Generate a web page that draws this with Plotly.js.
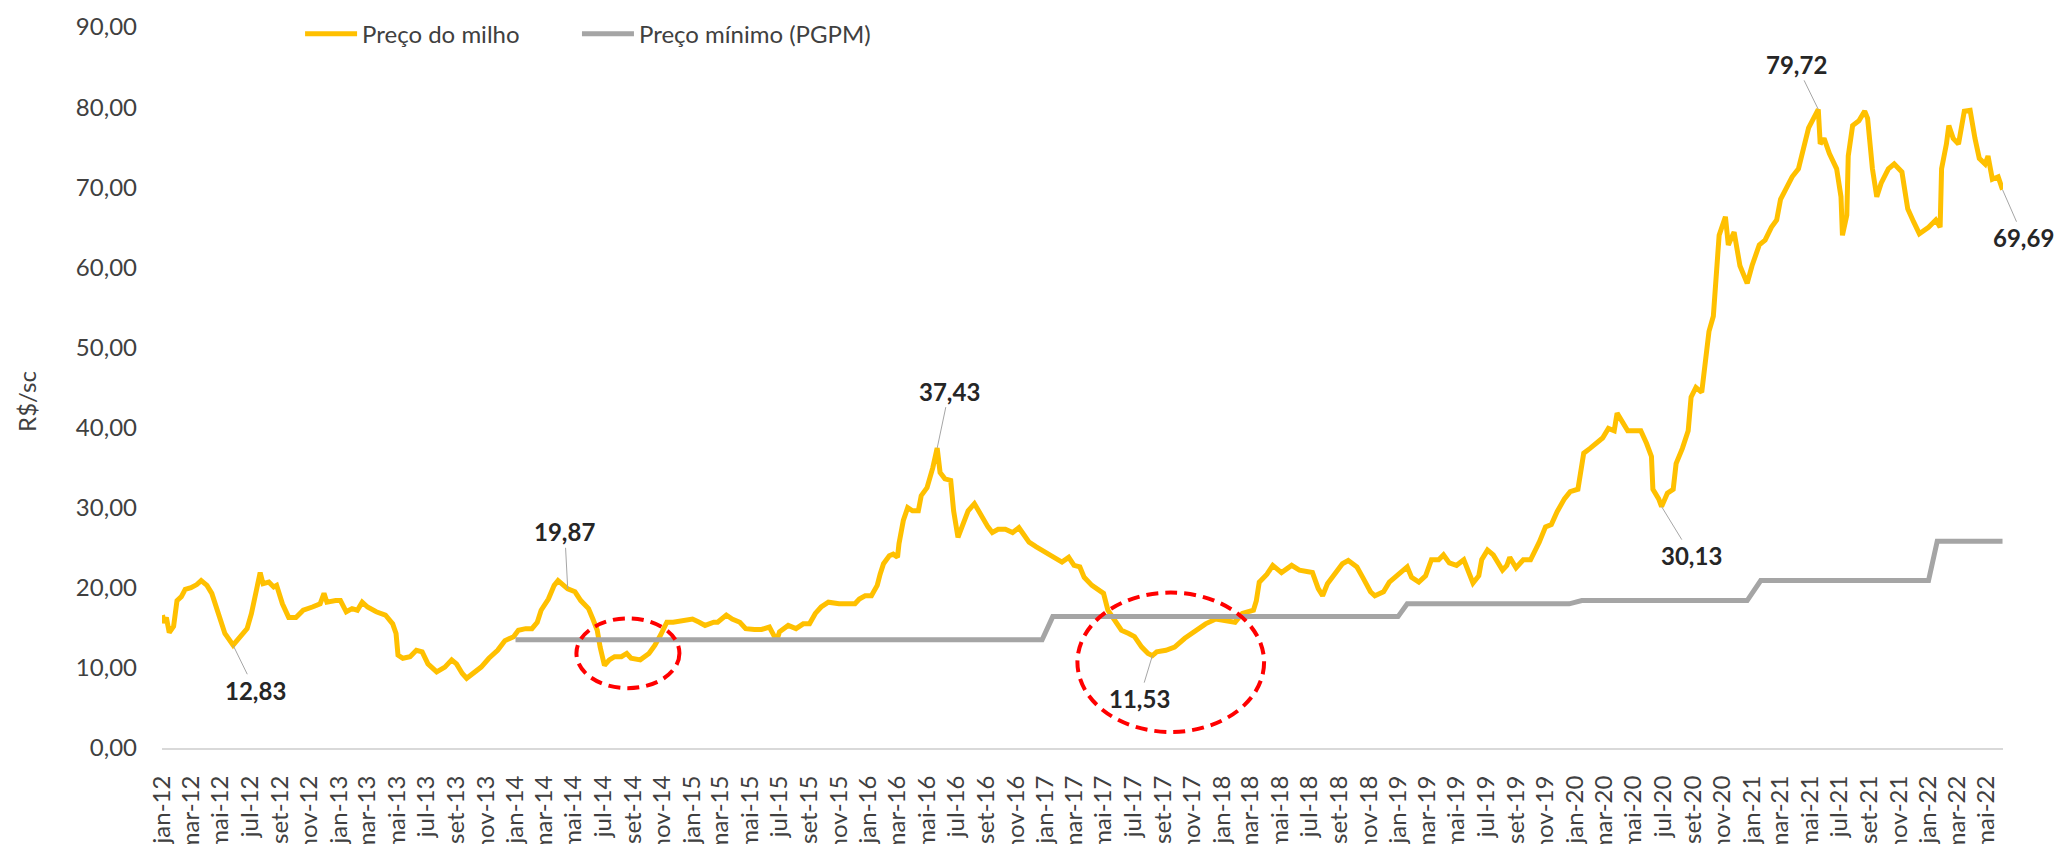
<!DOCTYPE html>
<html>
<head>
<meta charset="utf-8">
<script src="https://cdn.plot.ly/plotly-3.0.1.min.js"></script>
<style>
  html, body { margin: 0; padding: 0; background: #fff; }
</style>
</head>
<body>
<div id="grafico" style="width:2065px;height:844px"></div>
<script>
// Preço do milho (R$/sc) - leitura aproximada do gráfico
const datasMilho = [
  // 2012
  '2012-01-02','2012-01-06','2012-01-10','2012-01-16','2012-01-25','2012-02-01','2012-02-10','2012-02-18',
  '2012-03-01','2012-03-13','2012-03-22','2012-04-03','2012-04-13','2012-04-22','2012-05-01','2012-05-10',
  '2012-05-27','2012-06-10','2012-06-25','2012-07-04','2012-07-15','2012-07-22','2012-07-28','2012-08-09',
  '2012-08-19','2012-08-25','2012-09-06','2012-09-19','2012-10-04','2012-10-19','2012-11-07','2012-11-23',
  '2012-12-01','2012-12-07','2012-12-25',
  // 2013
  '2013-01-04','2013-01-16','2013-01-28','2013-02-08','2013-02-18','2013-03-01','2013-03-19','2013-04-07',
  '2013-04-22','2013-04-29','2013-05-03','2013-05-13','2013-05-28','2013-06-10','2013-06-22','2013-07-04',
  '2013-07-22','2013-08-08','2013-08-22','2013-09-01','2013-09-13','2013-09-22','2013-10-07','2013-10-22',
  '2013-11-07','2013-11-25','2013-12-10','2013-12-28',
  // 2014
  '2014-01-07','2014-01-22','2014-02-04','2014-02-15','2014-02-23','2014-03-10','2014-03-22','2014-03-30',
  '2014-04-19','2014-05-04','2014-05-16','2014-06-01','2014-06-10','2014-06-19','2014-06-25','2014-07-04',
  '2014-07-14','2014-07-25','2014-08-08','2014-08-19','2014-08-28','2014-09-16','2014-10-04','2014-10-16',
  '2014-10-28','2014-11-10','2014-11-23','2014-12-10',
  // 2015
  '2015-01-02','2015-01-16','2015-01-28','2015-02-15','2015-02-23','2015-03-13','2015-03-25','2015-04-10',
  '2015-04-22','2015-05-10','2015-05-25','2015-06-10','2015-06-25','2015-07-01','2015-07-19','2015-08-04',
  '2015-08-19','2015-09-01','2015-09-13','2015-09-25','2015-10-10','2015-11-01','2015-11-19','2015-12-04',
  '2015-12-13','2015-12-25',
  // 2016
  '2016-01-07','2016-01-19','2016-01-25','2016-02-01','2016-02-13','2016-02-21','2016-03-01','2016-03-04',
  '2016-03-13','2016-03-22','2016-04-01','2016-04-13','2016-04-19','2016-05-01','2016-05-13','2016-05-22',
  '2016-05-28','2016-06-07','2016-06-19','2016-06-25','2016-07-04','2016-07-16','2016-07-25','2016-08-07',
  '2016-08-19','2016-09-04','2016-09-13','2016-09-25','2016-10-10','2016-10-25','2016-11-07','2016-11-13',
  '2016-11-28','2016-12-13',
  // 2017
  '2017-01-01','2017-01-19','2017-02-04','2017-02-18','2017-03-01','2017-03-13','2017-03-22','2017-04-07',
  '2017-04-19','2017-05-01','2017-05-10','2017-05-25','2017-06-07','2017-06-22','2017-07-04','2017-07-19',
  '2017-08-01','2017-08-10','2017-08-19','2017-09-07','2017-09-25','2017-10-16','2017-11-07','2017-11-28',
  '2017-12-19',
  // 2018
  '2018-01-07','2018-01-28','2018-02-12','2018-03-07','2018-03-13','2018-03-19','2018-04-04','2018-04-16',
  '2018-05-04','2018-05-25','2018-06-10','2018-06-28','2018-07-07','2018-07-19','2018-07-28','2018-08-07',
  '2018-08-22','2018-09-07','2018-09-19','2018-10-07','2018-10-19','2018-11-04','2018-11-13','2018-12-01',
  '2018-12-13',
  // 2019
  '2019-01-01','2019-01-19','2019-01-28','2019-02-12','2019-02-26','2019-03-10','2019-03-25','2019-04-04',
  '2019-04-16','2019-05-01','2019-05-16','2019-05-25','2019-06-04','2019-06-16','2019-06-22','2019-07-04',
  '2019-07-16','2019-08-04','2019-08-13','2019-08-19','2019-09-01','2019-09-16','2019-10-01','2019-10-19',
  '2019-11-01','2019-11-13','2019-11-25','2019-12-10','2019-12-22',
  // 2020
  '2020-01-07','2020-01-19','2020-02-01','2020-02-15','2020-02-27','2020-03-10','2020-03-22','2020-03-28',
  '2020-04-07','2020-04-19','2020-05-04','2020-05-16','2020-05-28','2020-06-07','2020-06-10','2020-06-22',
  '2020-06-28','2020-07-10','2020-07-22','2020-07-28','2020-08-10','2020-08-22','2020-08-28','2020-09-07',
  '2020-09-19','2020-09-28','2020-10-04','2020-10-13','2020-10-19','2020-10-25','2020-11-07','2020-11-13',
  '2020-11-25','2020-12-07','2020-12-22',
  // 2021
  '2021-01-01','2021-01-16','2021-01-28','2021-02-10','2021-02-21','2021-03-01','2021-03-13','2021-03-25',
  '2021-04-07','2021-04-16','2021-04-28','2021-05-18','2021-05-22','2021-05-30','2021-06-10','2021-06-25',
  '2021-07-04','2021-07-07','2021-07-16','2021-07-19','2021-07-28','2021-08-10','2021-08-22','2021-08-28',
  '2021-09-07','2021-09-16','2021-09-25','2021-10-10','2021-10-22','2021-11-07','2021-11-19','2021-12-01',
  '2021-12-13',
  // 2022
  '2022-01-01','2022-01-16','2022-01-25','2022-01-28','2022-02-07','2022-02-12','2022-02-21','2022-03-04',
  '2022-03-16','2022-03-28','2022-04-07','2022-04-16','2022-04-28','2022-05-04','2022-05-13','2022-05-25',
  '2022-06-03'
];

const precoMilho = [
  // 2012
  16.6, 15.6, 16.3, 14.4, 15.2, 18.4, 18.9, 19.8,
  20.0, 20.4, 20.9, 20.3, 19.3, 17.6, 15.5, 14.3,
  12.83, 13.9, 14.9, 16.8, 20.1, 21.9, 20.5, 20.7,
  20.1, 20.3, 18.0, 16.3, 16.3, 17.2, 17.6, 18.0,
  19.3, 18.2, 18.4,
  // 2013
  18.4, 17.0, 17.4, 17.2, 18.2, 17.6, 17.0, 16.6,
  15.5, 14.3, 11.6, 11.2, 11.4, 12.2, 12.0, 10.5,
  9.5, 10.1, 11.0, 10.5, 9.3, 8.7, 9.5, 10.1,
  11.2, 12.2, 13.4, 13.9,
  // 2014
  14.7, 14.9, 14.9, 15.7, 17.2, 18.6, 20.3, 20.9,
  19.87, 19.5, 18.4, 17.4, 16.1, 14.7, 12.6, 10.3,
  11.0, 11.4, 11.4, 11.8, 11.2, 11.0, 11.8, 12.8,
  14.1, 15.7, 15.7, 15.9,
  // 2015
  16.1, 15.7, 15.3, 15.7, 15.7, 16.6, 16.1, 15.7,
  14.9, 14.8, 14.8, 15.1, 13.4, 14.5, 15.3, 14.9,
  15.5, 15.5, 16.8, 17.6, 18.2, 18.0, 18.0, 18.0,
  18.6, 19.0,
  // 2016
  19.0, 20.3, 21.7, 23.0, 24.0, 24.2, 23.8, 25.5,
  28.4, 30.0, 29.6, 29.6, 31.5, 32.5, 35.0, 37.43,
  34.4, 33.6, 33.4, 29.6, 26.3, 28.4, 29.6, 30.5,
  29.2, 27.6, 26.9, 27.3, 27.3, 26.9, 27.5, 26.9,
  25.7, 25.1,
  // 2017
  24.4, 23.8, 23.2, 23.8, 22.8, 22.6, 21.3, 20.3,
  19.7, 19.3, 17.2, 15.9, 14.7, 14.3, 13.9, 12.6,
  11.8, 11.53, 12.0, 12.2, 12.6, 13.7, 14.7, 15.5,
  16.1,
  // 2018
  15.9, 15.7, 16.8, 17.2, 18.4, 20.7, 21.7, 22.8,
  21.9, 22.8, 22.2, 21.9, 21.9, 19.9, 19.0, 20.5,
  21.7, 23.0, 23.4, 22.6, 21.3, 19.5, 19.0, 19.5,
  20.7,
  // 2019
  21.7, 22.6, 21.3, 20.7, 21.5, 23.5, 23.5, 24.1,
  23.1, 22.8, 23.5, 22.2, 20.6, 21.5, 23.5, 24.7,
  24.1, 22.2, 22.8, 23.8, 22.5, 23.5, 23.5, 25.7,
  27.6, 27.9, 29.5, 31.1, 32.0,
  // 2020
  32.3, 36.8, 37.4, 38.0, 38.7, 39.9, 39.6, 41.8,
  40.9, 39.6, 39.6, 39.6, 38.0, 36.4, 32.3, 31.1,
  30.13, 31.8, 32.3, 35.5, 37.4, 39.6, 43.8, 45.0,
  44.4, 48.8, 52.0, 53.9, 58.3, 64.0, 66.3, 62.8,
  64.4, 60.2, 58.0,
  // 2021
  60.2, 62.8, 63.4, 65.0, 65.9, 68.5, 69.8, 71.3,
  72.3, 74.8, 77.4, 79.72, 75.4, 76.1, 74.2, 72.3,
  68.8, 64.0, 66.5, 73.9, 77.7, 78.3, 79.5, 78.6,
  72.3, 68.8, 70.5, 72.3, 72.9, 71.9, 67.3, 65.7,
  64.2,
  // 2022
  65.0, 65.9, 65.0, 72.3, 75.4, 77.7, 76.1, 75.4,
  79.5, 79.6, 76.1, 73.6, 72.9, 73.9, 71.0, 71.3,
  69.69
];

// Preço mínimo (PGPM)
const datasPgpm = [
  '2014-01-01','2016-12-25','2017-01-16','2018-12-31','2019-01-19','2019-12-20',
  '2020-01-15','2020-12-22','2021-01-19','2022-01-01','2022-01-19','2022-06-03'
];
const precoPgpm = [13.5, 13.5, 16.4, 16.4, 18.0, 18.0, 18.4, 18.4, 20.9, 20.9, 25.8, 25.8];

// Pontos destacados
const destaqueDatas = ['2012-05-27','2014-04-19','2016-05-22','2017-08-10','2020-06-28','2021-05-18','2022-06-03'];
const destaqueValores = [12.83, 19.87, 37.43, 11.53, 30.13, 79.72, 69.69];

const mesesCurtos = ['jan','fev','mar','abr','mai','jun','jul','ago','set','out','nov','dez'];

Plotly.register({
  moduleType: 'locale',
  name: 'pt-br-curto',
  dictionary: {},
  format: { shortMonths: mesesCurtos, decimal: ',', thousands: '.' }
});

const fonte = 'Lato, sans-serif';

// deslocamento do rótulo em relação ao ponto (px)
const deslocRotulo = [[22, 45], [-3, -57], [12, -57], [-13, 43], [30, 49], [-22, -45], [21, 48]];

const anotacoes = destaqueDatas.map((d, i) => ({
  x: d, y: destaqueValores[i], xref: 'x', yref: 'y',
  text: '<b>' + destaqueValores[i].toFixed(2).replace('.', ',') + '</b>',
  showarrow: true, arrowhead: 0, arrowwidth: 1, arrowcolor: '#a6a6a6', standoff: 0,
  ax: deslocRotulo[i][0], ay: deslocRotulo[i][1],
  font: { family: fonte, size: 24, color: '#262626' }
}));

// título do eixo y
anotacoes.push({
  xref: 'paper', yref: 'paper', x: -0.0735, y: 0.481, showarrow: false,
  text: 'R$/sc', textangle: -90, xanchor: 'center', yanchor: 'middle',
  font: { family: fonte, size: 24, color: '#404040' }
});

const elipse = { type: 'circle', xref: 'x', yref: 'y', layer: 'above',
  line: { color: '#ff0000', width: 4, dash: '12px,7px' } };

const traces = [
  { x: datasMilho, y: precoMilho, type: 'scatter', mode: 'lines', name: 'Preço do milho',
    legend: 'legend', line: { color: '#ffc000', width: 5 } },
  { x: datasPgpm, y: precoPgpm, type: 'scatter', mode: 'lines', name: 'Preço mínimo (PGPM)',
    legend: 'legend2', line: { color: '#a5a5a5', width: 5 } }
];

const legendaBase = {
  orientation: 'h', xanchor: 'left', y: 0.99, yanchor: 'middle',
  itemwidth: 52, bgcolor: 'rgba(0,0,0,0)',
  font: { family: fonte, size: 24, color: '#404040' }
};

const layout = {
  width: 2065, height: 844,
  margin: { l: 162, r: 62, t: 25, b: 96 },
  paper_bgcolor: '#ffffff', plot_bgcolor: '#ffffff',
  font: { family: fonte, size: 24, color: '#404040' },
  separators: ',.',
  showlegend: true,
  legend: Object.assign({ x: 0.075 }, legendaBase),
  legend2: Object.assign({ x: 0.2254 }, legendaBase),
  xaxis: {
    type: 'date', range: ['2012-01-01', '2022-06-04'],
    tick0: '2012-01-01', dtick: 'M2', tickformat: '%b-%y', tickangle: -90,
    showgrid: false, zeroline: false, showline: true, linecolor: '#d9d9d9', linewidth: 2,
    ticks: '', ticklabelstandoff: 16, automargin: false,
    tickfont: { family: fonte, size: 24, color: '#404040' }
  },
  yaxis: {
    range: [0, 90], tick0: 0, dtick: 10, tickformat: '.2f',
    showgrid: false, zeroline: false, showline: false, ticks: '',
    ticklabelstandoff: 24, automargin: false,
    tickfont: { family: fonte, size: 24, color: '#404040' }
  },
  shapes: [
    Object.assign({ x0: '2014-05-07', x1: '2014-12-06', y0: 7.47, y1: 16.18 }, elipse),
    Object.assign({ x0: '2017-03-08', x1: '2018-03-29', y0: 2.0, y1: 19.4 }, elipse)
  ],
  annotations: anotacoes
};

Plotly.newPlot('grafico', traces, layout, { staticPlot: true, locale: 'pt-br-curto' });
</script>
</body>
</html>
